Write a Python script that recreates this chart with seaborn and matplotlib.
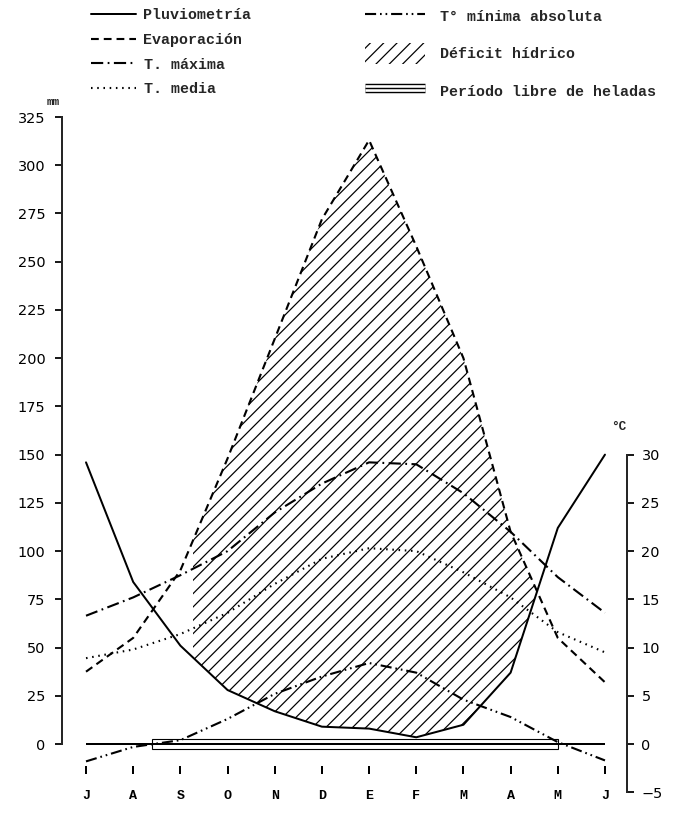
import numpy as np
import pandas as pd
import matplotlib
matplotlib.use("Agg")
import matplotlib.pyplot as plt
import seaborn as sns
from matplotlib.lines import Line2D
from matplotlib.patches import Patch, Rectangle
from matplotlib.legend_handler import HandlerTuple
from matplotlib.font_manager import FontProperties

# Climate diagram, July to June
months = ["J", "A", "S", "O", "N", "D", "E", "F", "M", "A", "M", "J"]
pluviometria = [146, 84, 51, 28, 17, 9, 8, 3.5, 10, 37, 112, 150]          # mm
evaporacion = [37.5, 55, 90, 148, 210, 272, 313, 258, 200, 110, 55, 32]    # mm
t_maxima = [13.3, 15.2, 17.5, 20.0, 24.0, 27.0, 29.2, 29.0, 26.0, 22.0, 17.3, 13.6]  # °C
t_media = [8.9, 9.8, 11.4, 13.6, 16.6, 19.2, 20.3, 20.0, 17.8, 15.2, 11.6, 9.5]      # °C
t_minima_abs = [-1.8, -0.3, 0.4, 2.6, 5.2, 7.0, 8.4, 7.4, 4.6, 2.8, 0.2, -1.7]       # °C
frost_free_start, frost_free_end = 1.4, 10.0   # months from July
deficit_start = 2.27                            # months from July
mm_ticks = list(range(0, 326, 25))
c_ticks = list(range(-5, 31, 5))

legend_left = ["Pluviometría", "Evaporación", "T. máxima", "T. media"]
legend_right = ["T° mínima absoluta", "Déficit hídrico", "Período libre de heladas"]

df = pd.DataFrame({
    "pos": np.arange(len(months)),
    "pluviometria": pluviometria,
    "evaporacion": evaporacion,
    "t_maxima": t_maxima,
    "t_media": t_media,
    "t_minima_abs": t_minima_abs,
})

sns.set_theme(style="white")
plt.rcParams.update({
    "lines.scale_dashes": False,
    "hatch.linewidth": 1.1,
    "font.family": ["DejaVu Sans"],
    "axes.linewidth": 1.8,
})

MONO = "Liberation Mono"
DPI = 80
W, H = 679, 831
fig = plt.figure(figsize=(W / DPI, H / DPI), dpi=DPI, facecolor="white")
ax = fig.add_axes([62 / W, 0.0350, 565 / W, 0.8242])
ax2 = ax.twinx()

styles = {
    "solid": "-",
    "dashed": (0, (7, 4.5)),
    "dashdot": (0, (11, 4, 1.6, 4)),
    "dotted": (0, (1.4, 4.2)),
    "dashdotdot": (0, (10, 3.5, 1.5, 3.5, 1.5, 3.5)),
}
LW = 1.9

# Water deficit: where evaporation exceeds rainfall
pos = df["pos"].to_numpy()
ev = df["evaporacion"].to_numpy()
pl = df["pluviometria"].to_numpy()
hatch = ax.fill_between(pos, pl, ev, where=ev > pl, interpolate=True,
                        facecolor="none", edgecolor="black", hatch="//", linewidth=0)
hatch.set_clip_path(Rectangle((deficit_start, -100), 20, 600, transform=ax.transData))

# Precipitation and evaporation (mm)
sns.lineplot(data=df, x="pos", y="pluviometria", ax=ax, color="black",
             linewidth=1.8, linestyle=styles["solid"], errorbar=None)
sns.lineplot(data=df, x="pos", y="evaporacion", ax=ax, color="black",
             linewidth=LW, linestyle=styles["dashed"], errorbar=None)

# Temperatures (°C)
sns.lineplot(data=df, x="pos", y="t_maxima", ax=ax2, color="black",
             linewidth=LW, linestyle=styles["dashdot"], errorbar=None)
sns.lineplot(data=df, x="pos", y="t_media", ax=ax2, color="black",
             linewidth=LW, linestyle=styles["dotted"], errorbar=None)
sns.lineplot(data=df, x="pos", y="t_minima_abs", ax=ax2, color="black",
             linewidth=LW, linestyle=styles["dashdotdot"], errorbar=None)

# Zero line and frost-free period
ax.hlines(0, pos[0], pos[-1], color="black", linewidth=1.8)
ax.barh(0, frost_free_end - frost_free_start, left=frost_free_start, height=5.5,
        facecolor="none", edgecolor="black", linewidth=1.0)

# Axes
ax.set_xlim(-0.509, 11.467)
ax.set_ylim(-30, 325)
ax2.set_ylim(-6, 65)
ax.set_yticks(mm_ticks)
ax2.set_yticks(c_ticks)
ax.set_xticks(pos, months)
for a in (ax, ax2):
    a.set_xlabel("")
    a.set_ylabel("")
    a.set_facecolor("none")
    a.spines["top"].set_visible(False)
ax.spines["right"].set_visible(False)
ax2.spines["left"].set_visible(False)
ax2.spines["bottom"].set_visible(False)
ax.spines["left"].set_bounds(0, 325)
ax2.spines["right"].set_bounds(-5, 30)
ax.spines["bottom"].set_position(("data", -13.5))
ax.spines["bottom"].set_color("none")

ax.tick_params(axis="x", direction="inout", length=7, width=1.8, pad=14,
               labelsize=12, colors="black", bottom=True)
ax.tick_params(axis="y", direction="out", length=6, width=1.6, pad=9,
               labelsize=13, colors="black", left=True)
ax2.tick_params(axis="y", direction="out", length=6, width=1.6, pad=7,
                labelsize=13, colors="black", right=True)
for lbl in ax.get_xticklabels():
    lbl.set_fontfamily(MONO)
    lbl.set_fontweight("bold")

fig.text(53 / W, 1 - 102 / H, "mm", ha="center", va="center",
         fontsize=10, fontweight="bold", family=MONO)
fig.text(619 / W, 1 - 427 / H, "°C", ha="center", va="center",
         fontsize=11.5, fontweight="bold", family=MONO)

# Legends
prop = FontProperties(family=MONO, weight="bold", size=13.5)
h_left = [
    Line2D([], [], color="black", lw=1.8, ls=styles["solid"]),
    Line2D([], [], color="black", lw=LW, ls=styles["dashed"]),
    Line2D([], [], color="black", lw=LW, ls=styles["dashdot"]),
    Line2D([], [], color="black", lw=LW, ls=styles["dotted"]),
]
fig.legend(h_left, legend_left, loc="upper left", bbox_to_anchor=(91 / W, 1 - 8 / H),
           frameon=False, borderpad=0, borderaxespad=0, handlelength=3.0,
           handletextpad=0.5, labelspacing=0.72, prop=prop)

frost_handle = (
    Line2D([], [], color="black", lw=8.5, solid_capstyle="butt"),
    Line2D([], [], color="white", lw=6.0, solid_capstyle="butt"),
    Line2D([], [], color="black", lw=1.3, solid_capstyle="butt"),
)
h_right = [
    Line2D([], [], color="black", lw=LW, ls=styles["dashdotdot"]),
    Patch(facecolor="none", edgecolor="black", hatch="//", linewidth=0),
    frost_handle,
]
fig.legend(h_right, legend_right, loc="upper left", bbox_to_anchor=(365 / W, 1 - 6 / H),
           frameon=False, borderpad=0, borderaxespad=0, handlelength=4.0,
           handleheight=1.75, handletextpad=1.0, labelspacing=1.1, prop=prop,
           handler_map={tuple: HandlerTuple(ndivide=1, pad=0)})

fig.savefig("out.png", dpi=DPI, facecolor="white")
